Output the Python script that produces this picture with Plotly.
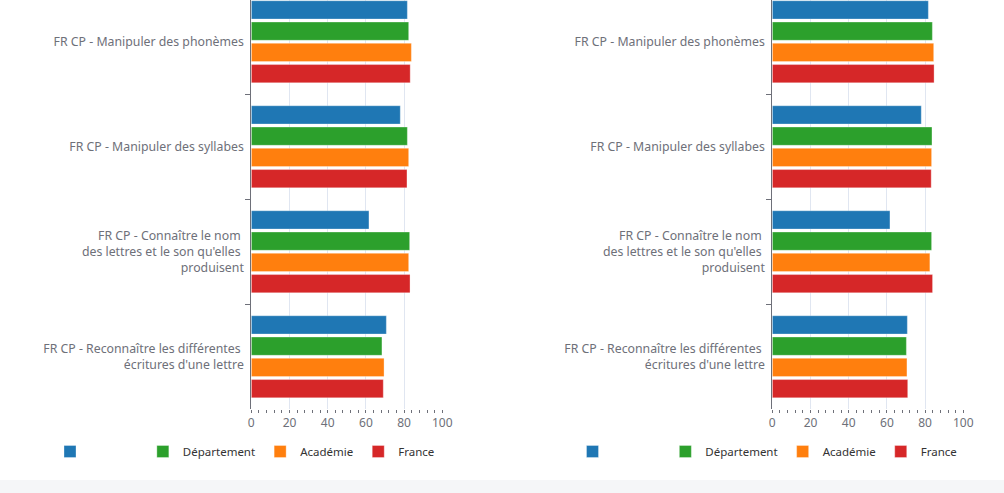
import plotly.graph_objects as go

categories = [
    "FR CP - Manipuler des phonèmes",
    "FR CP - Manipuler des syllabes",
    "FR CP - Connaître le nom\u00a0<br>des lettres et le son qu'elles\u00a0<br>produisent",
    "FR CP - Reconnaître les différentes\u00a0<br>écritures d'une lettre",
]
series_names = ["\u00a0" * 16, "Département", "Académie", "France"]
series_colors = ["#1f77b4", "#2ca02c", "#ff7f0e", "#d62728"]

left_ecole = [81.7, 78.0, 61.6, 70.7]
left_departement = [82.4, 81.7, 82.9, 68.4]
left_academie = [83.8, 82.4, 82.4, 69.5]
left_france = [83.2, 81.5, 83.1, 69.1]

right_ecole = [81.7, 78.0, 61.6, 70.7]
right_departement = [83.8, 83.6, 83.4, 70.2]
right_academie = [84.5, 83.4, 82.5, 70.5]
right_france = [84.7, 83.2, 83.9, 70.9]

x_ticks = [0, 20, 40, 60, 80, 100]

W, H = 1004, 493
FONT = "Noto Sans"
AXIS_COL = "#6E7079"
GRID_COL = "#E0E6F1"

fig = go.Figure()

panels = [
    ("x", "y", "legend", [left_ecole, left_departement, left_academie, left_france]),
    ("x2", "y2", "legend2", [right_ecole, right_departement, right_academie, right_france]),
]
for xa, ya, lg, vals in panels:
    for name, col, v in zip(series_names, series_colors, vals):
        fig.add_trace(go.Bar(
            x=v, y=categories, orientation="h", name=name,
            marker=dict(color=col, line=dict(width=0.8, color="rgba(255,255,255,0.4)")),
            xaxis=xa, yaxis=ya, legend=lg, hoverinfo="x+y",
        ))

y_bottom = 409.3
y_dom = [(H - y_bottom) / H, 1.0]
band = 105.0
top_val = 3.5 - y_bottom / band

def xaxis_cfg(domain, anchor):
    return dict(
        domain=domain, anchor=anchor, range=[0, 100],
        tickvals=x_ticks, ticktext=[str(t) for t in x_ticks],
        showgrid=True, gridcolor=GRID_COL, gridwidth=1,
        zeroline=False, showline=False, ticks="",
        ticklabelstandoff=5,
        minor=dict(dtick=4, tick0=0, ticks="outside", ticklen=3,
                   tickcolor=AXIS_COL, tickwidth=1, showgrid=False),
        tickfont=dict(family=FONT, size=12, color=AXIS_COL),
        automargin=False, fixedrange=True,
    )

def yaxis_cfg(anchor):
    return dict(
        domain=y_dom, anchor=anchor, type="category",
        range=[3.5, top_val],
        showline=True, linecolor=AXIS_COL, linewidth=1,
        ticks="outside", tickson="boundaries", ticklen=5,
        tickcolor=AXIS_COL, showgrid=False, zeroline=False,
        ticklabelstandoff=4,
        tickfont=dict(family=FONT, size=12.3, color=AXIS_COL),
        automargin=False, fixedrange=True,
    )

legend_common = dict(
    orientation="h", yanchor="middle", xanchor="left",
    font=dict(family=FONT, size=11.5, color="#333333"),
    bgcolor="rgba(0,0,0,0)", traceorder="normal",
    itemclick=False, itemdoubleclick=False,
)

fig.update_layout(
    width=W, height=H,
    margin=dict(l=0, r=0, t=0, b=0, autoexpand=False),
    paper_bgcolor="white", plot_bgcolor="white",
    barmode="group", bargap=0.19, bargroupgap=0.14,
    font=dict(family=FONT, size=12, color=AXIS_COL),
    xaxis=xaxis_cfg([251.3 / W, 442.3 / W], "y"),
    yaxis=yaxis_cfg("x"),
    xaxis2=xaxis_cfg([772.3 / W, 963.3 / W], "y2"),
    yaxis2=yaxis_cfg("x2"),
    legend=dict(x=50 / W, y=(H - 451.5) / H, **legend_common),
    legend2=dict(x=572.5 / W, y=(H - 451.5) / H, **legend_common),
    shapes=[dict(type="rect", xref="paper", yref="paper",
                 x0=0, x1=1, y0=0, y1=13 / H,
                 fillcolor="#F5F6F8", line=dict(width=0), layer="below")],
)

fig.write_html(
    "out.html",
    config={"displayModeBar": False},
    post_script="document.body.style.margin='0';document.body.style.padding='0';"
                "document.documentElement.style.overflow='hidden';",
)
